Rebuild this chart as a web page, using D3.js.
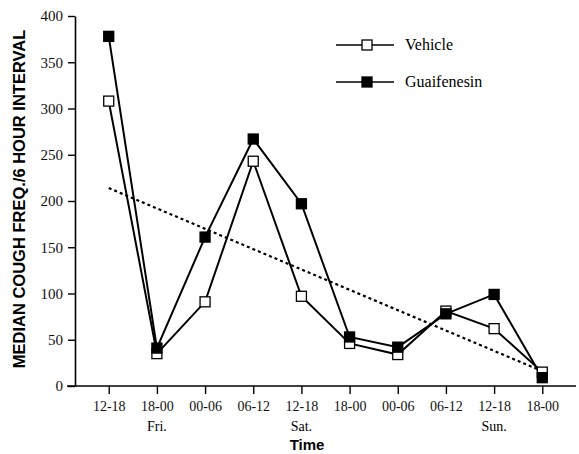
<!DOCTYPE html>
<html>
<head>
<meta charset="utf-8">
<script src="https://cdn.jsdelivr.net/npm/d3@7"></script>
<style>
  body { margin: 0; background: #fff; }
  svg { display: block; }
  .serif { font-family: "Liberation Serif", "Times New Roman", serif; }
  .sans { font-family: "Liberation Sans", Arial, sans-serif; font-weight: bold; }
</style>
</head>
<body>
<div id="app"></div>
<script>
// chart data
var periods = ["12-18", "18-00", "00-06", "06-12", "12-18", "18-00", "00-06", "06-12", "12-18", "18-00"];
var days = [{i: 1, label: "Fri."}, {i: 4, label: "Sat."}, {i: 8, label: "Sun."}];
var vehicle = [308, 35, 91, 243, 97, 46, 34, 81, 62, 15];
var guaifenesin = [378, 41, 161, 267, 197, 53, 42, 78, 99, 9];
var trend = [{i: 0, v: 214}, {i: 9, v: 16}];
var yTicks = [0, 50, 100, 150, 200, 250, 300, 350, 400];

var width = 579,
    height = 454;

var svg = d3.select("#app").append("svg")
    .attr("width", width)
    .attr("height", height);

var x = d3.scalePoint()
    .domain(d3.range(periods.length))
    .range([75, 576])
    .padding(0.7);

var y = d3.scaleLinear()
    .domain([0, 400])
    .range([386, 16]);

// y axis
var yAxis = svg.append("g")
    .attr("transform", "translate(75,0)")
    .call(d3.axisLeft(y).tickValues(yTicks).tickSize(7).tickSizeOuter(0).tickPadding(5));
yAxis.attr("font-family", null).attr("font-size", null);
yAxis.select(".domain").attr("stroke-width", 1.6);
yAxis.selectAll(".tick line").attr("stroke-width", 1.4);
yAxis.selectAll("text")
    .attr("class", "serif")
    .style("font-size", "15px")
    .attr("fill", "#111");

// x axis
svg.append("line")
    .attr("x1", 67).attr("x2", 576)
    .attr("y1", y(0)).attr("y2", y(0))
    .attr("stroke", "#000")
    .attr("stroke-width", 1.6);

var xAxis = svg.append("g")
    .attr("transform", "translate(0," + y(0) + ")")
    .call(d3.axisBottom(x).tickSize(8).tickSizeOuter(0).tickPadding(7)
        .tickFormat(function(i) { return periods[i]; }));
xAxis.select(".domain").remove();
xAxis.attr("font-family", null).attr("font-size", null);
xAxis.selectAll(".tick line").attr("stroke-width", 1.4);
xAxis.selectAll("text")
    .attr("class", "serif")
    .style("font-size", "14px")
    .attr("fill", "#111");

svg.selectAll(".day")
    .data(days)
    .enter().append("text")
    .attr("class", "serif")
    .attr("x", function(d) { return x(d.i); })
    .attr("y", 431)
    .attr("text-anchor", "middle")
    .style("font-size", "14px")
    .text(function(d) { return d.label; });

// axis titles
svg.append("text")
    .attr("class", "sans")
    .attr("x", 307)
    .attr("y", 450)
    .attr("text-anchor", "middle")
    .style("font-size", "15px")
    .text("Time");

svg.append("text")
    .attr("class", "sans")
    .attr("transform", "translate(25,199) rotate(-90)")
    .attr("text-anchor", "middle")
    .style("font-size", "16.5px")
    .text("MEDIAN COUGH FREQ./6 HOUR INTERVAL");

// trend line
var line = d3.line()
    .x(function(d, i) { return x(i); })
    .y(function(d) { return y(d); });

svg.append("path")
    .datum(trend)
    .attr("d", d3.line()
        .x(function(d) { return x(d.i); })
        .y(function(d) { return y(d.v); }))
    .attr("fill", "none")
    .attr("stroke", "#000")
    .attr("stroke-width", 2.2)
    .attr("stroke-dasharray", "3,3");

// series
var series = [
    {name: "Vehicle", values: vehicle, fill: "#fff"},
    {name: "Guaifenesin", values: guaifenesin, fill: "#000"}
];

series.forEach(function(s) {
    svg.append("path")
        .datum(s.values)
        .attr("d", line)
        .attr("fill", "none")
        .attr("stroke", "#000")
        .attr("stroke-width", 2);
});

series.forEach(function(s) {
    svg.selectAll(null)
        .data(s.values)
        .enter().append("rect")
        .attr("x", function(d, i) { return x(i) - 5; })
        .attr("y", function(d) { return y(d) - 5; })
        .attr("width", 10)
        .attr("height", 10)
        .attr("fill", s.fill)
        .attr("stroke", "#000")
        .attr("stroke-width", 1.3);
});

// legend
var legend = svg.append("g");
series.forEach(function(s, k) {
    var ly = 45 + k * 37;
    legend.append("line")
        .attr("x1", 336).attr("x2", 394)
        .attr("y1", ly).attr("y2", ly)
        .attr("stroke", "#000")
        .attr("stroke-width", 1.4);
    legend.append("rect")
        .attr("x", 362).attr("y", ly - 5)
        .attr("width", 10).attr("height", 10)
        .attr("fill", s.fill)
        .attr("stroke", "#000")
        .attr("stroke-width", 1.3);
    legend.append("text")
        .attr("class", "serif")
        .attr("x", 405)
        .attr("y", ly + 5)
        .style("font-size", "16px")
        .text(s.name);
});
</script>
</body>
</html>
